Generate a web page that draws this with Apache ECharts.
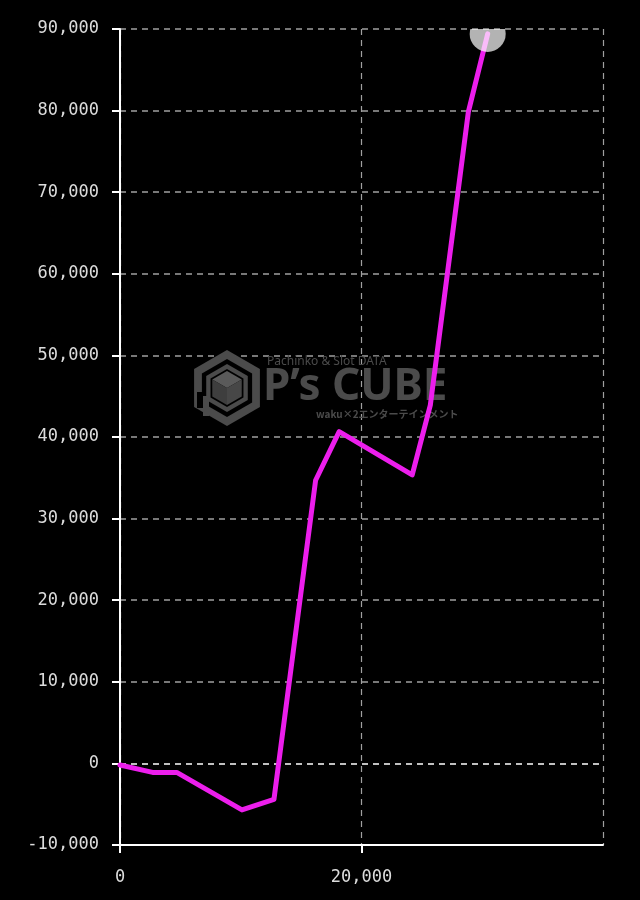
<!DOCTYPE html>
<html>
<head>
<meta charset="utf-8">
<style>
html,body{margin:0;padding:0;background:#000;}
#chart{width:640px;height:900px;}
</style>
<script src="https://cdn.jsdelivr.net/npm/echarts@6/dist/echarts.min.js"></script>
</head>
<body>
<div id="chart"></div>
<script>
// Data
const xValues = [0, 2700, 4700, 10100, 12750, 16200, 18150, 24200, 25700, 28850, 30450];
const yValues = [-200, -1100, -1100, -5700, -4400, 34700, 40650, 35350, 43900, 79850, 89400];
const xTicks = [0, 20000, 40000];
const yTicks = [-10000, 0, 10000, 20000, 30000, 40000, 50000, 60000, 70000, 80000, 90000];

const points = xValues.map((x, i) => [x, yValues[i]]);
const lastPoint = points[points.length - 1];

const chart = echarts.init(document.getElementById('chart'), null, {renderer: 'canvas'});
const mono = "'DejaVu Sans Mono', 'Liberation Mono', monospace";
const wmColor = '#4b4b4b';

// hexagon helper for watermark icon
function hex(cx, cy, r) {
  const pts = [];
  for (let k = 0; k < 6; k++) {
    const a = Math.PI / 180 * (90 + 60 * k);
    pts.push([cx + r * Math.cos(a), cy - r * Math.sin(a)]);
  }
  return pts;
}
const cx = 227, cy = 388;
const ic = hex(cx, cy, 17);

chart.setOption({
  backgroundColor: '#000',
  animation: false,
  grid: {left: 120, right: 37, top: 29, bottom: 55, containLabel: false},
  xAxis: {
    type: 'value',
    min: xTicks[0],
    max: xTicks[xTicks.length - 1],
    interval: xTicks[1] - xTicks[0],
    axisLine: {show: true, onZero: false, lineStyle: {color: '#fff', width: 2}},
    axisTick: {show: true, length: 8, lineStyle: {color: '#fff', width: 2}},
    axisLabel: {
      color: '#dcdcdc', fontFamily: mono, fontSize: 17, margin: 24,
      showMaxLabel: false,
      formatter: v => v.toLocaleString('en-US')
    },
    splitLine: {show: true, lineStyle: {color: '#a0a0a0', width: 1.2, type: [6, 5]}}
  },
  yAxis: {
    type: 'value',
    min: yTicks[0],
    max: yTicks[yTicks.length - 1],
    interval: yTicks[1] - yTicks[0],
    axisLine: {show: true, onZero: false, lineStyle: {color: '#fff', width: 2}},
    axisTick: {show: true, length: 8, lineStyle: {color: '#fff', width: 2}},
    axisLabel: {
      color: '#dcdcdc', fontFamily: mono, fontSize: 17, margin: 21,
      formatter: v => v.toLocaleString('en-US')
    },
    splitLine: {
      show: true,
      lineStyle: {
        color: yTicks.map(v => v === 0 ? '#ffffff' : '#a0a0a0'),
        width: 1.5, type: [6, 5]
      }
    }
  },
  graphic: [
    {type: 'polygon', z: 1, shape: {points: hex(cx, cy, 38)}, style: {fill: wmColor}},
    {type: 'polygon', z: 1, shape: {points: hex(cx, cy, 29)}, style: {fill: '#000'}},
    {type: 'rect', z: 1, shape: {x: cx - 30, y: cy + 4, width: 12, height: 16}, style: {fill: '#000'}},
    {type: 'polygon', z: 1, shape: {points: hex(cx, cy, 24)}, style: {fill: wmColor}},
    {type: 'polygon', z: 1, shape: {points: hex(cx, cy, 19)}, style: {fill: '#000'}},
    {type: 'polygon', z: 1, shape: {points: [[cx, cy], ic[1], ic[0], ic[5]]}, style: {fill: '#5a5a5a'}},
    {type: 'polygon', z: 1, shape: {points: [[cx, cy], ic[1], ic[2], ic[3]]}, style: {fill: '#3e3e3e'}},
    {type: 'polygon', z: 1, shape: {points: [[cx, cy], ic[3], ic[4], ic[5]]}, style: {fill: '#474747'}},
    {type: 'rect', z: 1, shape: {x: cx - 24, y: cy + 8, width: 6, height: 20}, style: {fill: wmColor}},
    {type: 'text', z: 1, x: 267, y: 362, style: {text: 'Pachinko & Slot DATA', fill: wmColor, font: "12px 'Noto Sans', sans-serif", textVerticalAlign: 'middle'}},
    {type: 'text', z: 1, x: 263, y: 387, style: {text: 'P’s CUBE', fill: wmColor, font: "bold 44px 'Noto Sans', sans-serif", textVerticalAlign: 'middle'}},
    {type: 'text', z: 1, x: 316, y: 414, style: {text: 'waku×2エンターテインメント', fill: wmColor, font: "bold 10px 'Noto Sans CJK JP', sans-serif", textVerticalAlign: 'middle'}}
  ],
  series: [
    {
      type: 'line',
      data: points,
      showSymbol: false,
      symbol: 'none',
      smooth: false,
      z: 3,
      lineStyle: {color: '#ec1eec', width: 5, cap: 'round', join: 'round'},
      itemStyle: {color: '#ec1eec'}
    },
    {
      type: 'custom',
      z: 4,
      clip: true,
      data: [lastPoint],
      renderItem: function (params, api) {
        const p = api.coord([api.value(0), api.value(1)]);
        const cs = params.coordSys;
        return {
          type: 'circle',
          shape: {cx: p[0], cy: p[1], r: 18},
          style: {fill: 'rgba(255,255,255,0.7)'},
          clipPath: {type: 'rect', shape: {x: cs.x, y: cs.y, width: cs.width, height: cs.height}}
        };
      }
    }
  ]
});
</script>
</body>
</html>
